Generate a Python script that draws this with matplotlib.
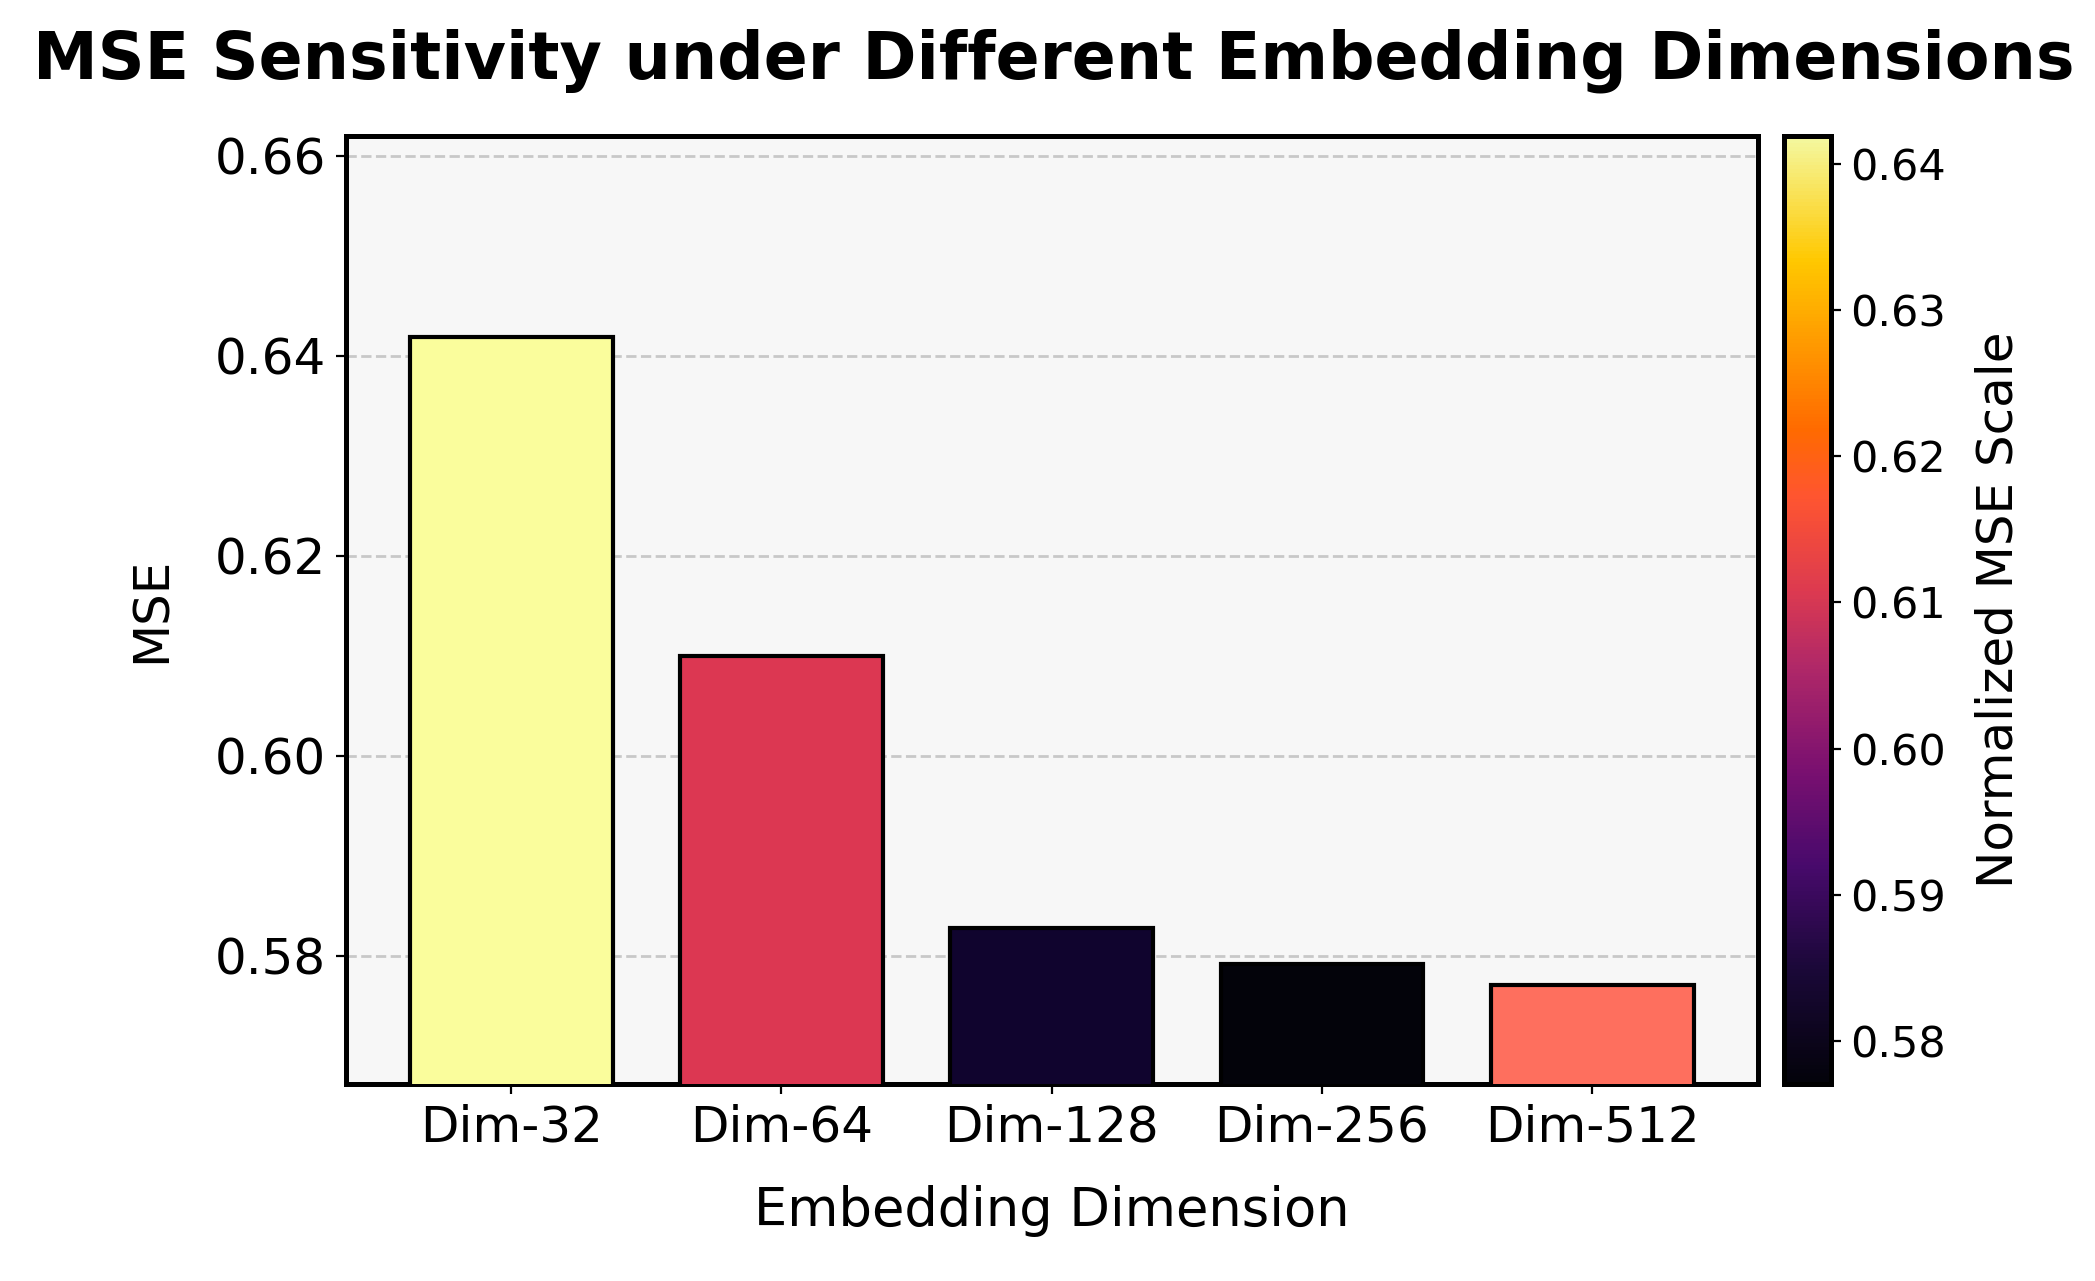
import numpy as np
import matplotlib
matplotlib.use("Agg")
import matplotlib.pyplot as plt
from matplotlib.colors import Normalize, LinearSegmentedColormap
from matplotlib.cm import ScalarMappable

dims = ["Dim-32", "Dim-64", "Dim-128", "Dim-256", "Dim-512"]
mse = [0.6419, 0.6100, 0.5828, 0.5792, 0.5771]

bar_colors = ["#fafd9c", "#dc3752", "#10042e", "#03030a", "#fe6f5e"]

# inferno-like scale, a bit more saturated as in the reference
cmap = LinearSegmentedColormap.from_list("mse", [
    (0.00, "#03030a"), (0.12, "#1a0838"), (0.23, "#480a6c"),
    (0.33, "#7a1070"), (0.44, "#b02868"), (0.52, "#dc3a50"),
    (0.62, "#ff5530"), (0.69, "#ff6a00"), (0.87, "#ffc800"),
    (1.00, "#f4f8a0")])

fig = plt.figure(figsize=(2095 / 200, 1281 / 200), dpi=200)
ax = fig.add_axes([0.165, 0.154, 0.674, 0.740])
cax = fig.add_axes([0.8515, 0.154, 0.0225, 0.740])

ax.set_facecolor("#f7f7f7")
x = np.arange(len(dims))
ax.bar(x, mse, width=0.75, color=bar_colors, edgecolor="black", linewidth=1.5, zorder=3)
ax.set_xticks(x)
ax.set_xticklabels(dims, fontsize=18)
ax.tick_params(axis="y", labelsize=18)
ax.set_ylim(0.5672, 0.662)
ax.set_yticks([0.58, 0.60, 0.62, 0.64, 0.66])
ax.grid(axis="y", linestyle="--", color="#c8c8c8", linewidth=1, zorder=0)
for s in ax.spines.values():
    s.set_linewidth(1.8)

ax.set_xlabel("Embedding Dimension", fontsize=19, labelpad=12)
ax.set_ylabel("MSE", fontsize=18, labelpad=14)
fig.suptitle("MSE Sensitivity under Different Embedding Dimensions",
             fontsize=23.4, fontweight="bold", x=0.503, y=0.978)

sm = ScalarMappable(norm=Normalize(min(mse), max(mse)), cmap=cmap)
cb = fig.colorbar(sm, cax=cax)
cb.set_ticks([0.58, 0.59, 0.60, 0.61, 0.62, 0.63, 0.64])
cb.ax.tick_params(labelsize=15.5)
cb.outline.set_linewidth(1.8)
cb.set_label("Normalized MSE Scale", fontsize=18, labelpad=10)

plt.savefig("out.png", dpi=200)
